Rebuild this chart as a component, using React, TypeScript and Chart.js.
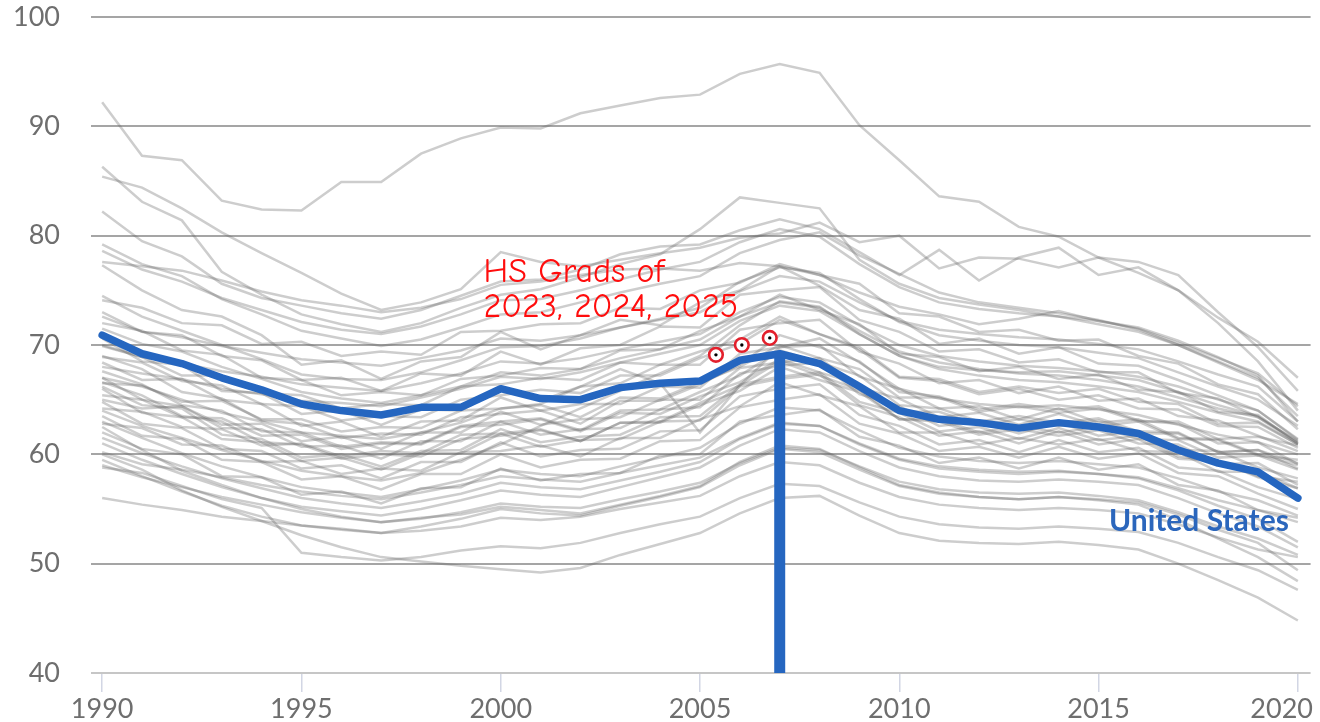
import React, { useEffect, useRef } from 'react';
import { Chart, registerables } from 'chart.js';

Chart.register(...registerables);

const years = [1990, 1991, 1992, 1993, 1994, 1995, 1996, 1997, 1998, 1999, 2000, 2001, 2002, 2003, 2004, 2005, 2006, 2007, 2008, 2009, 2010, 2011, 2012, 2013, 2014, 2015, 2016, 2017, 2018, 2019, 2020];

const usValues = [70.9, 69.2, 68.3, 67.0, 65.9, 64.6, 64.0, 63.6, 64.3, 64.3, 66.0, 65.1, 65.0, 66.1, 66.5, 66.7, 68.6, 69.2, 68.3, 66.2, 64.0, 63.2, 62.9, 62.4, 62.9, 62.5, 61.9, 60.4, 59.2, 58.4, 56.0];

const stateValues = [
  [92.2, 87.3, 86.9, 83.2, 82.4, 82.3, 84.9, 84.9, 87.5, 88.9, 89.9, 89.8, 91.2, 91.9, 92.6, 92.9, 94.8, 95.7, 94.9, 90.1, 86.9, 83.6, 83.1, 80.8, 79.9, 78.0, 76.6, 75.0, 72.5, 70.3, 67.0],
  [86.3, 83.1, 81.4, 76.7, 74.6, 72.8, 71.9, 71.2, 72.0, 73.4, 74.6, 75.1, 76.2, 77.4, 78.3, 80.6, 83.5, 83.0, 82.5, 77.8, 75.6, 74.3, 73.7, 73.2, 72.6, 71.9, 71.2, 70.0, 68.4, 66.8, 64.6],
  [85.4, 84.4, 82.5, 80.3, 78.4, 76.6, 74.7, 73.2, 73.9, 75.1, 78.5, 77.6, 77.2, 77.8, 78.4, 78.9, 79.8, 80.2, 81.2, 79.4, 80.0, 77.0, 78.0, 77.9, 77.1, 78.0, 77.6, 76.4, 73.0, 69.8, 65.8],
  [82.2, 79.5, 78.1, 75.6, 74.3, 73.6, 72.9, 72.4, 73.2, 74.5, 75.8, 76.0, 76.9, 78.3, 79.0, 79.2, 80.5, 81.5, 80.6, 78.5, 76.4, 78.7, 75.9, 78.0, 78.9, 76.4, 77.1, 75.0, 72.0, 68.5, 64.0],
  [79.2, 77.4, 76.3, 74.2, 72.8, 71.3, 70.6, 69.9, 70.5, 71.6, 72.8, 73.0, 73.9, 74.8, 75.6, 76.3, 78.4, 79.6, 80.3, 78.2, 76.5, 74.8, 73.9, 73.4, 72.9, 72.3, 71.4, 70.0, 68.5, 67.0, 63.5],
  [77.6, 77.2, 76.8, 75.9, 74.9, 74.1, 73.6, 73.0, 73.4, 74.2, 75.5, 75.8, 76.4, 76.9, 77.0, 76.8, 77.5, 77.2, 76.4, 74.8, 73.5, 72.8, 71.9, 72.4, 73.1, 72.2, 71.6, 70.4, 68.9, 67.2, 63.0],
  [77.3, 75.0, 73.2, 72.6, 70.9, 68.2, 68.6, 66.9, 68.5, 68.9, 71.2, 69.6, 70.9, 72.3, 71.8, 73.9, 75.0, 77.2, 75.4, 73.2, 72.4, 70.1, 70.6, 69.2, 69.8, 68.3, 68.1, 66.8, 65.4, 64.0, 61.3],
  [74.1, 73.4, 72.0, 71.8, 70.1, 70.3, 69.0, 69.4, 69.1, 71.2, 71.3, 71.9, 72.0, 73.4, 73.3, 75.0, 75.7, 77.4, 76.4, 75.6, 72.9, 72.6, 71.2, 71.4, 70.4, 70.5, 69.0, 68.3, 66.4, 65.5, 62.3],
  [73.0, 71.2, 70.9, 69.0, 68.6, 66.8, 67.0, 65.8, 67.4, 67.2, 69.4, 68.2, 69.7, 70.0, 71.7, 71.6, 74.6, 75.0, 75.3, 72.3, 71.2, 69.4, 69.6, 68.4, 68.7, 67.5, 67.5, 65.6, 65.1, 63.4, 61.0],
  [72.0, 71.3, 69.5, 69.1, 67.0, 66.8, 65.4, 65.7, 65.4, 66.9, 67.2, 67.9, 67.8, 69.5, 69.6, 71.3, 72.6, 74.6, 73.2, 71.9, 69.2, 68.9, 67.6, 68.0, 66.9, 67.3, 65.9, 65.7, 63.9, 63.6, 61.0],
  [70.6, 68.5, 68.2, 65.8, 65.6, 63.7, 64.0, 62.7, 64.1, 64.0, 66.0, 64.9, 66.2, 66.5, 68.2, 68.2, 71.4, 72.0, 72.3, 69.4, 68.3, 66.5, 66.8, 65.6, 66.2, 64.9, 65.1, 63.5, 63.1, 61.7, 60.3],
  [69.9, 68.9, 67.2, 67.2, 65.6, 65.4, 64.2, 64.6, 64.5, 66.2, 66.4, 67.0, 66.8, 68.4, 68.2, 69.4, 70.5, 72.6, 71.0, 69.6, 67.0, 66.7, 65.5, 66.0, 65.0, 65.4, 64.2, 64.1, 62.6, 62.5, 60.6],
  [69.0, 67.8, 65.7, 65.1, 63.1, 62.8, 61.5, 61.9, 61.8, 63.4, 63.7, 64.0, 62.8, 64.9, 64.9, 66.4, 68.2, 70.9, 69.8, 68.5, 65.7, 65.3, 64.1, 64.6, 64.1, 64.4, 63.1, 62.8, 61.0, 61.1, 59.1],
  [68.4, 66.8, 66.9, 65.0, 64.6, 62.6, 63.0, 61.6, 63.0, 63.1, 65.2, 64.0, 64.6, 64.6, 66.2, 66.1, 69.2, 69.8, 70.0, 67.1, 66.0, 64.2, 64.4, 63.2, 64.2, 62.9, 63.2, 61.5, 61.4, 60.0, 59.0],
  [67.6, 66.4, 64.5, 64.0, 62.1, 62.0, 60.7, 61.1, 61.0, 62.6, 63.0, 63.3, 62.2, 64.0, 64.1, 65.7, 67.2, 69.5, 68.4, 67.2, 64.5, 64.2, 63.0, 63.5, 62.9, 63.3, 62.1, 62.0, 60.2, 60.4, 58.7],
  [67.0, 65.0, 64.4, 62.4, 62.3, 60.7, 60.8, 59.6, 61.2, 61.2, 63.0, 61.8, 62.3, 62.4, 64.1, 64.3, 67.4, 68.1, 68.4, 65.5, 64.4, 62.6, 63.0, 61.9, 62.9, 61.7, 62.1, 60.4, 60.3, 58.8, 57.8],
  [66.5, 66.3, 64.8, 64.9, 63.2, 63.2, 62.1, 62.5, 62.4, 64.0, 64.2, 64.5, 63.4, 65.2, 65.1, 66.6, 68.0, 70.0, 68.8, 67.8, 65.2, 65.2, 63.9, 64.4, 63.8, 64.2, 63.0, 63.0, 61.4, 61.6, 60.8],
  [66.0, 63.8, 63.4, 61.4, 61.1, 59.4, 59.7, 58.6, 60.1, 60.1, 61.9, 60.7, 61.3, 61.4, 63.0, 63.1, 66.2, 66.9, 67.3, 64.5, 63.4, 61.7, 62.1, 61.0, 62.1, 60.9, 61.4, 59.6, 59.4, 57.9, 56.9],
  [65.4, 65.0, 63.4, 63.3, 61.7, 61.8, 60.5, 61.0, 60.9, 62.5, 62.7, 63.2, 62.1, 63.8, 63.7, 65.3, 66.6, 68.7, 67.5, 66.4, 63.9, 63.9, 62.7, 63.2, 62.6, 63.1, 61.9, 61.9, 60.2, 60.4, 59.2],
  [64.8, 62.8, 62.4, 60.5, 60.3, 58.7, 59.0, 57.8, 59.3, 59.3, 61.1, 59.8, 60.4, 60.5, 62.1, 62.2, 65.3, 66.0, 66.4, 63.6, 62.6, 60.9, 61.3, 60.2, 61.3, 60.2, 60.6, 58.8, 58.5, 57.0, 55.9],
  [64.2, 63.9, 62.5, 62.3, 60.8, 61.0, 59.8, 60.3, 60.1, 61.8, 61.9, 62.3, 61.2, 62.9, 62.9, 64.5, 65.8, 68.0, 66.8, 65.7, 63.2, 63.2, 62.0, 62.6, 62.0, 62.5, 61.4, 61.3, 59.7, 59.9, 58.6],
  [63.5, 61.7, 61.4, 59.5, 59.3, 57.7, 58.0, 56.8, 58.2, 58.2, 60.0, 58.8, 59.5, 59.6, 61.2, 61.3, 64.3, 65.0, 65.5, 62.8, 61.9, 60.3, 60.7, 59.7, 60.7, 59.6, 60.1, 58.3, 58.0, 56.4, 55.0],
  [62.8, 62.4, 60.9, 60.8, 59.3, 59.4, 58.2, 58.7, 58.5, 60.2, 60.3, 60.8, 59.8, 61.5, 61.5, 63.2, 64.4, 66.6, 65.4, 64.4, 62.0, 62.0, 60.9, 61.5, 60.9, 61.4, 60.3, 60.2, 58.4, 58.4, 56.9],
  [62.0, 60.5, 60.0, 58.0, 57.9, 56.3, 56.6, 55.5, 56.9, 57.0, 58.7, 57.6, 58.2, 58.3, 59.9, 60.0, 63.0, 63.6, 64.1, 61.6, 60.8, 59.2, 59.7, 58.7, 59.7, 58.6, 59.1, 57.2, 56.7, 54.9, 53.8],
  [61.0, 59.5, 58.2, 57.0, 56.0, 55.2, 54.8, 54.4, 55.0, 55.8, 56.7, 56.3, 56.1, 57.0, 57.9, 58.8, 60.8, 62.3, 62.0, 60.3, 58.8, 58.0, 57.6, 57.5, 57.7, 57.5, 57.2, 56.0, 54.6, 53.4, 51.5],
  [60.2, 59.1, 58.6, 57.9, 57.2, 56.6, 56.2, 55.9, 56.5, 57.2, 58.0, 57.7, 57.5, 58.3, 59.0, 59.7, 61.5, 62.9, 62.6, 60.9, 59.5, 58.7, 58.4, 58.2, 58.4, 58.2, 57.9, 56.9, 55.8, 54.9, 54.2],
  [59.5, 58.0, 56.6, 55.3, 54.3, 53.5, 53.1, 52.8, 53.4, 54.1, 55.0, 54.6, 54.4, 55.3, 56.1, 57.0, 59.0, 60.5, 60.2, 58.6, 57.1, 56.4, 56.1, 55.9, 56.1, 55.9, 55.6, 54.5, 53.1, 51.9, 49.4],
  [56.0, 55.4, 54.9, 54.3, 53.9, 53.5, 53.2, 52.8, 53.0, 53.4, 54.2, 54.0, 54.3, 55.0, 55.6, 56.2, 58.0, 59.3, 59.0, 57.4, 56.1, 55.4, 55.1, 54.9, 55.1, 54.9, 54.6, 53.6, 52.4, 51.3, 50.6],
  [58.8, 58.3, 57.1, 55.9, 55.1, 51.0, 50.6, 50.3, 50.6, 51.2, 51.6, 51.4, 51.9, 52.8, 53.6, 54.3, 56.0, 57.3, 57.1, 55.6, 54.3, 53.6, 53.3, 53.2, 53.4, 53.2, 52.9, 51.9, 50.6, 49.4, 47.6],
  [60.0, 58.6, 56.7, 55.2, 53.9, 52.6, 51.5, 50.6, 50.2, 49.8, 49.5, 49.2, 49.6, 50.8, 51.8, 52.8, 54.6, 56.0, 56.2, 54.4, 52.8, 52.1, 51.9, 51.8, 52.0, 51.7, 51.3, 50.0, 48.5, 46.9, 44.8],
  [62.5, 60.4, 58.5, 57.2, 56.0, 55.0, 54.3, 53.8, 54.2, 54.5, 55.2, 54.9, 54.6, 55.4, 56.2, 57.1, 59.3, 60.8, 60.5, 58.8, 57.2, 56.5, 56.1, 55.9, 56.1, 55.8, 55.4, 54.0, 52.3, 50.6, 48.4],
  [71.5, 70.1, 69.4, 68.0, 66.9, 65.7, 65.1, 64.7, 65.4, 66.2, 67.5, 67.2, 67.8, 68.8, 69.6, 70.5, 72.6, 73.9, 73.4, 71.3, 69.4, 68.4, 67.8, 67.4, 67.2, 66.8, 66.2, 65.2, 64.2, 63.4, 61.2],
  [68.0, 67.4, 66.9, 66.0, 65.5, 64.9, 64.7, 64.4, 65.2, 66.0, 67.1, 66.9, 67.5, 68.4, 69.2, 70.0, 72.2, 73.6, 73.1, 71.0, 69.0, 67.8, 67.2, 66.8, 66.6, 66.2, 65.7, 64.8, 63.8, 63.0, 60.9],
  [74.5, 72.6, 71.3, 70.0, 68.7, 67.3, 66.9, 66.8, 67.5, 68.6, 69.8, 69.9, 70.6, 71.6, 72.4, 73.4, 75.8, 77.1, 76.6, 74.2, 72.1, 70.9, 70.4, 70.0, 69.8, 69.3, 68.8, 67.5, 66.2, 65.0, 62.6],
  [70.0, 68.9, 68.3, 67.6, 67.1, 66.4, 66.1, 65.8, 66.5, 67.4, 68.5, 68.3, 68.8, 69.6, 70.3, 71.0, 73.0, 74.4, 73.9, 71.8, 70.0, 69.0, 68.5, 68.1, 67.9, 67.6, 67.1, 66.2, 65.0, 64.0, 61.4],
  [66.6, 65.4, 63.5, 63.0, 61.1, 60.9, 59.6, 60.0, 59.8, 61.4, 61.7, 62.2, 61.2, 62.9, 63.0, 64.7, 66.3, 68.5, 67.2, 65.9, 63.2, 63.0, 61.8, 62.3, 61.7, 62.2, 61.0, 60.9, 59.1, 59.2, 57.2],
  [65.0, 64.2, 64.4, 62.7, 62.8, 61.2, 61.6, 60.5, 62.0, 62.0, 63.9, 62.7, 63.2, 63.4, 65.0, 65.0, 67.9, 68.4, 68.8, 66.1, 65.1, 63.4, 63.8, 62.7, 63.7, 62.6, 63.0, 61.4, 61.3, 59.9, 59.5],
  [63.0, 61.5, 60.1, 58.9, 57.9, 57.0, 56.5, 56.1, 56.8, 57.6, 58.6, 58.2, 58.0, 58.9, 59.7, 60.6, 62.8, 64.3, 64.0, 62.2, 60.6, 59.8, 59.4, 59.2, 59.4, 59.1, 58.8, 57.8, 56.6, 55.8, 54.4],
  [67.0, 66.2, 65.0, 63.8, 63.0, 62.0, 61.7, 61.4, 62.0, 62.9, 64.2, 64.6, 66.2, 67.8, 66.5, 62.0, 66.3, 69.8, 70.6, 68.4, 66.0, 65.1, 64.6, 64.3, 64.5, 64.1, 63.6, 62.7, 61.8, 61.1, 60.0],
  [64.0, 62.6, 61.5, 60.4, 59.4, 58.5, 58.0, 57.6, 58.3, 59.5, 60.9, 62.6, 64.2, 65.8, 67.4, 69.0, 71.8, 74.0, 73.5, 71.0, 69.0, 68.0, 67.7, 67.5, 67.6, 67.2, 66.8, 65.7, 64.5, 63.5, 61.1],
  [61.5, 60.1, 58.9, 57.8, 56.9, 56.0, 55.5, 55.1, 55.7, 56.4, 57.4, 57.0, 56.8, 57.6, 58.4, 59.3, 61.4, 62.8, 62.6, 61.0, 59.6, 58.9, 58.6, 58.4, 58.5, 58.2, 57.8, 56.7, 55.3, 54.1, 52.0],
  [59.0, 57.9, 57.0, 56.1, 55.4, 54.7, 54.2, 53.8, 54.1, 54.7, 55.5, 55.2, 55.1, 55.9, 56.6, 57.4, 59.2, 60.6, 60.4, 58.9, 57.5, 56.8, 56.5, 56.4, 56.5, 56.2, 55.8, 54.7, 53.4, 52.3, 50.8],
  [72.6, 71.2, 70.7, 69.9, 69.3, 68.7, 68.4, 68.1, 68.8, 69.5, 70.6, 70.4, 70.9, 71.6, 72.3, 73.0, 74.9, 76.3, 75.8, 73.9, 72.2, 71.4, 71.0, 70.7, 70.5, 70.1, 69.6, 68.5, 67.3, 66.2, 63.0],
  [78.6, 76.9, 75.8, 74.3, 73.2, 72.1, 71.4, 71.0, 71.7, 72.8, 74.1, 74.2, 75.0, 76.0, 76.9, 77.6, 79.4, 80.6, 79.9, 77.4, 75.3, 73.9, 73.3, 72.9, 72.6, 72.2, 71.5, 70.2, 68.8, 67.4, 64.4],
  [68.9, 68.4, 66.7, 66.3, 64.6, 64.4, 63.1, 63.5, 63.4, 65.0, 65.4, 65.9, 65.6, 67.2, 67.2, 68.8, 70.1, 72.3, 71.0, 69.8, 67.1, 66.9, 65.7, 66.2, 65.6, 66.0, 64.8, 64.6, 62.8, 62.9, 60.9],
  [66.2, 64.5, 64.2, 61.8, 61.4, 59.7, 60.0, 58.9, 60.3, 60.4, 62.3, 61.1, 61.6, 61.8, 63.4, 63.5, 66.4, 67.1, 67.5, 64.8, 63.8, 62.1, 62.5, 61.4, 62.4, 61.3, 61.7, 59.8, 59.4, 58.0, 57.5],
];

const yTickValues = [40, 50, 60, 70, 80, 90, 100];
const xTickValues = [1990, 1995, 2000, 2005, 2010, 2015, 2020];
const markerYears = [2005.4, 2006.05, 2006.75];
const markerValues = [69.1, 70.0, 70.65];
const highlightYear = 2007;
const annotationLines = ['HS Grads of', '2023, 2024, 2025'];
const seriesLabel = 'United States';

const BLUE = '#2566c0';

const textPlugin = {
  id: 'chartTexts',
  afterDatasetsDraw(chart: any) {
    const { ctx, scales, chartArea } = chart;
    const x = scales.x;
    const y = scales.y;
    ctx.save();
    // x axis labels
    ctx.font = '27px Lato';
    ctx.fillStyle = '#6e6e6e';
    ctx.textBaseline = 'alphabetic';
    ctx.textAlign = 'center';
    const rightLimit = chart.width - 7;
    xTickValues.forEach((v) => {
      const label = String(v);
      const w = ctx.measureText(label).width;
      let cx = x.getPixelForValue(v);
      cx = Math.min(cx, rightLimit - w / 2);
      ctx.fillText(label, cx, chartArea.bottom + 45);
    });
    // series label
    ctx.font = 'bold 30px Lato';
    ctx.fillStyle = '#2b66bc';
    ctx.textAlign = 'right';
    ctx.fillText(seriesLabel, x.getPixelForValue(years[years.length - 1]) - 9, y.getPixelForValue(53.0));
    // annotation
    ctx.fillStyle = '#ff0d0d';
    ctx.textAlign = 'left';
    const family = '"Comic Sans MS", "Comic Neue", cursive';
    ctx.font = `28px ${family}`;
    const measured = ctx.measureText(annotationLines[1]).width;
    const size = Math.max(18, Math.min(34, (28 * 298) / measured));
    ctx.font = `${size}px ${family}`;
    const ax = x.getPixelForValue(1999.57);
    ctx.fillText(annotationLines[0], ax, y.getPixelForValue(75.75));
    ctx.fillText(annotationLines[1], ax, y.getPixelForValue(72.55));
    ctx.restore();
  },
};

export default function App() {
  const ref = useRef<HTMLCanvasElement>(null);

  useEffect(() => {
    const grayDatasets = stateValues.map((vals, i) => ({
      type: 'line' as const,
      label: 'state' + i,
      data: vals.map((v, j) => ({ x: years[j], y: v })),
      borderColor: 'rgba(100,100,100,0.32)',
      borderWidth: 2.5,
      pointRadius: 0,
      tension: 0,
      order: 10,
    }));

    const chart = new Chart(ref.current as HTMLCanvasElement, {
      type: 'line',
      data: {
        datasets: [
          {
            type: 'scatter',
            label: 'dots',
            data: markerYears.map((v, i) => ({ x: v, y: markerValues[i] })),
            pointRadius: 1.7,
            backgroundColor: '#000',
            borderWidth: 0,
            order: 0,
          },
          {
            type: 'scatter',
            label: 'markers',
            data: markerYears.map((v, i) => ({ x: v, y: markerValues[i] })),
            pointRadius: 6.8,
            backgroundColor: '#ffffff',
            borderColor: '#e3202c',
            borderWidth: 2.6,
            order: 1,
          },
          {
            type: 'line',
            label: seriesLabel,
            data: usValues.map((v, j) => ({ x: years[j], y: v })),
            borderColor: BLUE,
            borderWidth: 7.5,
            pointRadius: 0,
            borderJoinStyle: 'round',
            borderCapStyle: 'round',
            tension: 0,
            order: 2,
          },
          {
            type: 'line',
            label: 'bar',
            data: [
              { x: highlightYear, y: 40 },
              { x: highlightYear, y: usValues[years.indexOf(highlightYear)] },
            ],
            borderColor: BLUE,
            borderWidth: 11,
            borderCapStyle: 'butt',
            pointRadius: 0,
            order: 3,
          },
          ...grayDatasets,
        ] as any,
      },
      options: {
        responsive: false,
        animation: false,
        events: [],
        layout: { padding: { top: 17, right: 4, left: 0, bottom: 0 } },
        plugins: {
          legend: { display: false },
          tooltip: { enabled: false },
        },
        scales: {
          x: {
            type: 'linear',
            min: 1989.72,
            max: 2020.32,
            afterBuildTicks: (s: any) => {
              s.ticks = xTickValues.map((v) => ({ value: v }));
            },
            afterFit: (s: any) => {
              s.height = 49;
              s.paddingLeft = 0;
              s.paddingRight = 0;
            },
            grid: {
              drawOnChartArea: false,
              drawTicks: true,
              tickLength: 19,
              color: '#d2d6e4',
              lineWidth: 1.5,
            },
            border: { display: false },
            ticks: { display: false },
          },
          y: {
            type: 'linear',
            min: 40,
            max: 100,
            afterBuildTicks: (s: any) => {
              s.ticks = yTickValues.map((v) => ({ value: v }));
            },
            afterFit: (s: any) => {
              s.width = 91;
              s.paddingTop = 0;
              s.paddingBottom = 0;
            },
            grid: {
              color: (c: any) => (c.tick && c.tick.value === 40 ? '#c6c6c6' : '#a5a5a5'),
              lineWidth: 2,
              drawTicks: false,
            },
            border: { display: false },
            ticks: {
              padding: 31,
              font: { family: 'Lato', size: 27 },
              color: '#6e6e6e',
            },
          },
        },
      } as any,
      plugins: [textPlugin],
    });
    return () => chart.destroy();
  }, []);

  return (
    <div style={{ position: 'absolute', left: 0, top: 0, width: 1320, height: 722, background: '#fff' }}>
      <canvas ref={ref} width={1320} height={722} style={{ display: 'block', width: 1320, height: 722 }} />
    </div>
  );
}
